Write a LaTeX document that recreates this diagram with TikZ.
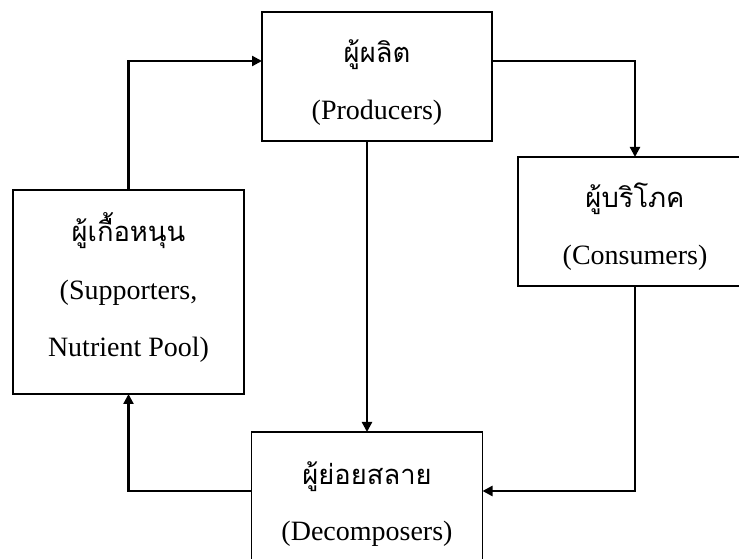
\documentclass[tikz,border=0pt]{standalone}
\usepackage{fontspec}
\setmainfont{Liberation Serif}
\newfontfamily\thaifont[Script=Thai]{Loma}
\usetikzlibrary{positioning, arrows.meta}
\tikzset{
  box/.style={
    draw, line width=1.3pt, fill=white,
    inner sep=0pt, outer sep=0pt
  },
  signal/.style={-{Triangle[length=7.5pt, width=7.5pt]}, line width=1.7pt, black},
  thlbl/.style={font=\thaifont\fontsize{20.5}{24}\selectfont, anchor=base},
  enlbl/.style={font=\fontsize{21}{25}\selectfont, anchor=base}
}

\begin{document}
\begin{tikzpicture}[x=0.75pt, y=-0.75pt]
\useasboundingbox (0,0) rectangle (739,559);

% Cajas
\node[box, minimum width=172.5pt, minimum height=96.75pt] (prod) at (377, 76.5) {};
\node[thlbl] (prodth) at (377, 63) {ผู้ผลิต};
\node[enlbl] (proden) at (377, 120) {(Producers)};

\node[box, minimum width=175.5pt, minimum height=96.75pt] (cons) at (635, 221.5) {};
\node[thlbl] (consth) at (635, 207.5) {ผู้บริโภค};
\node[enlbl] (consen) at (635, 265) {(Consumers)};

\node[box, minimum width=173.25pt, minimum height=153pt] (supp) at (128.5, 292) {};
\node[thlbl] (suppth) at (128.5, 242) {ผู้เกื้อหนุน};
\node[enlbl] (suppen) at (128.5, 300) {(Supporters,};
\node[enlbl] (supppool) at (128.5, 356.5) {Nutrient Pool)};

\node[box, minimum width=173.25pt, minimum height=105pt] (decomp) at (367, 502) {};
\node[thlbl] (decompth) at (367, 484) {ผู้ย่อยสลาย};
\node[enlbl] (decompen) at (367, 540) {(Decomposers)};

% Filas de las flechas
\coordinate (toprow) at (0, 61);
\coordinate (botrow) at (0, 491);

% Conexiones
\draw[signal] (supp.north) |- (prod.west |- toprow);
\draw[signal] (prod.east |- toprow) -| (cons.north);
\draw[signal] (decomp.north |- prod.south) -- (decomp.north);
\draw[signal] (cons.south) |- (decomp.east |- botrow);
\draw[signal] (decomp.west |- botrow) -| (supp.south);

\end{tikzpicture}
\end{document}
